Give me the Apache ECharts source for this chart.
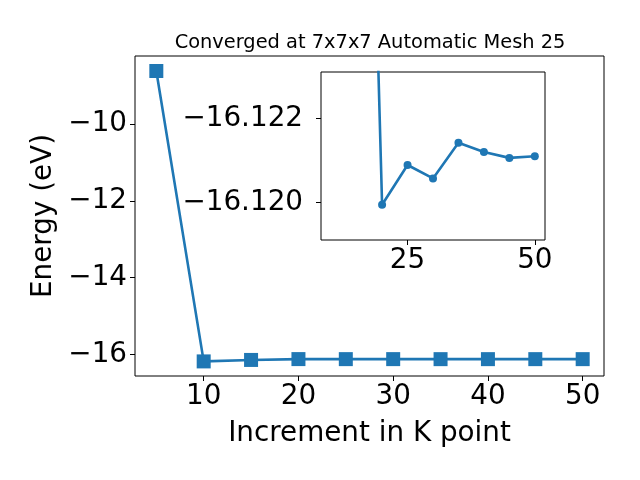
<!DOCTYPE html>
<html>
<head>
<meta charset="utf-8">
<script src="https://cdn.jsdelivr.net/npm/echarts@6/dist/echarts.min.js"></script>
<style>html,body{margin:0;padding:0;background:#fff}#c{width:640px;height:480px}</style>
</head>
<body>
<div id="c"></div>
<script>
// Data
const kPoints = [5, 10, 15, 20, 25, 30, 35, 40, 45, 50];
const energy = [-8.62, -16.18, -16.142, -16.11994, -16.12089, -16.12057, -16.12142, -16.12120, -16.12106, -16.12110];
const mainYTicks = [-16, -14, -12, -10];
const mainXTicks = [10, 20, 30, 40, 50];
const insetXTicks = [25, 50];
const insetYTicks = [-16.122, -16.120];
const insetKPoints = kPoints.slice(1);
const insetEnergy = energy.slice(1);

const FONT = 'DejaVu Sans';
const BLUE = '#1f77b4';
const fmt = v => (v < 0 ? '\u2212' : '') + Math.abs(v).toString();
const fmt3 = v => (v < 0 ? '\u2212' : '') + Math.abs(v).toFixed(3);

const chart = echarts.init(document.getElementById('c'), null, {renderer: 'canvas'});
chart.setOption({
  animation: false,
  backgroundColor: '#fff',
  title: {
    text: 'Converged at 7x7x7 Automatic Mesh 25',
    left: 365, top: 28, textAlign: 'center',
    textStyle: {fontFamily: FONT, fontSize: 19.4, fontWeight: 'normal', color: '#000'}
  },
  grid: [
    {left: 135, right: 36, top: 56, bottom: 104, show: true, borderColor: '#000', borderWidth: 1, backgroundColor: '#fff'},
    {left: 321, right: 95, top: 72, bottom: 240, show: true, borderColor: '#000', borderWidth: 1, backgroundColor: '#fff', z: 5}
  ],
  xAxis: [
    {
      gridIndex: 0, type: 'value', min: 2.75, max: 52.25,
      name: 'Increment in K point', nameLocation: 'middle', nameGap: 44,
      nameTextStyle: {fontFamily: FONT, fontSize: 27.8, color: '#000'},
      axisLine: {show: false},
      axisTick: {show: true, length: 5, customValues: mainXTicks, lineStyle: {color: '#000', width: 1}},
      axisLabel: {customValues: mainXTicks, fontFamily: FONT, fontSize: 27.8, color: '#000', margin: 7},
      splitLine: {show: false}
    },
    {
      gridIndex: 1, type: 'value', min: 8, max: 52,
      axisLine: {show: false},
      axisTick: {show: true, length: 5, customValues: insetXTicks, lineStyle: {color: '#000', width: 1}},
      axisLabel: {customValues: insetXTicks, fontFamily: FONT, fontSize: 27.8, color: '#000', margin: 7},
      splitLine: {show: false}
    }
  ],
  yAxis: [
    {
      gridIndex: 0, type: 'value', min: -16.56, max: -8.23,
      name: 'Energy (eV)', nameLocation: 'middle', nameGap: 75, nameRotate: 90,
      nameTextStyle: {fontFamily: FONT, fontSize: 27.8, color: '#000'},
      axisLine: {show: false},
      axisTick: {show: true, length: 5, customValues: mainYTicks, lineStyle: {color: '#000', width: 1}},
      axisLabel: {customValues: mainYTicks, formatter: fmt, fontFamily: FONT, fontSize: 27.8, color: '#000', margin: 8},
      splitLine: {show: false}
    },
    {
      gridIndex: 1, type: 'value', min: -16.12311, max: -16.1191, inverse: true,
      axisLine: {show: false},
      axisTick: {show: true, length: 5, customValues: insetYTicks, lineStyle: {color: '#000', width: 1}},
      axisLabel: {customValues: insetYTicks, formatter: fmt3, fontFamily: FONT, fontSize: 27.8, color: '#000', margin: 18},
      splitLine: {show: false}
    }
  ],
  series: [
    {
      type: 'line', xAxisIndex: 0, yAxisIndex: 0,
      data: kPoints.map((k, i) => [k, energy[i]]),
      symbol: 'rect', symbolSize: 14, showSymbol: true,
      lineStyle: {color: BLUE, width: 2.6},
      itemStyle: {color: BLUE, borderWidth: 0},
      z: 3
    },
    {
      type: 'line', xAxisIndex: 1, yAxisIndex: 1,
      data: insetKPoints.map((k, i) => [k, insetEnergy[i]]),
      symbol: 'circle', symbolSize: 8, showSymbol: true, clip: true,
      lineStyle: {color: BLUE, width: 2.6},
      itemStyle: {color: BLUE, borderWidth: 0},
      z: 10
    }
  ]
});
</script>
</body>
</html>
